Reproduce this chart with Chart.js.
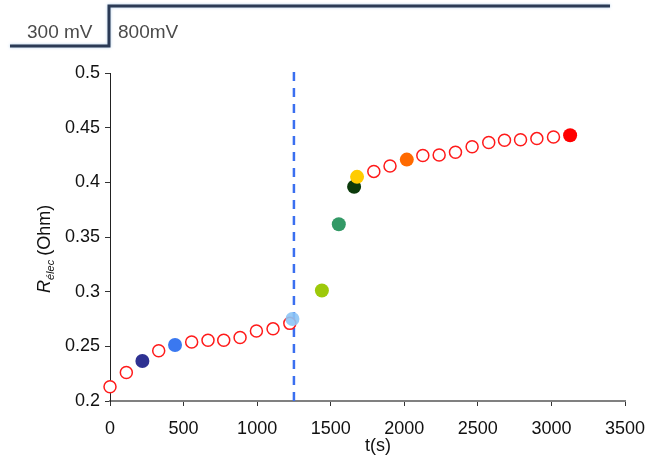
<!DOCTYPE html>
<html>
<head>
<meta charset="utf-8">
<script src="https://cdn.jsdelivr.net/npm/chart.js@4"></script>
<style>
  body { margin: 0; background: #fff; }
</style>
</head>
<body>
<canvas id="graficoR" width="645" height="457"></canvas>
<script>
// open circles (red rings)
const ringT = [0, 111, 331, 555, 666, 773, 884, 995, 1108, 1222, 1793, 1903, 2126, 2237, 2348, 2461, 2574, 2681, 2790, 2901, 3014];
const ringR = [0.213, 0.226, 0.246, 0.254, 0.2555, 0.2555, 0.258, 0.264, 0.266, 0.271, 0.41, 0.415, 0.4245, 0.425, 0.4275, 0.4325, 0.4365, 0.4385, 0.439, 0.44, 0.4415];

// filled coloured points
const fillT = [220, 442, 1240, 1440, 1555, 1659, 1679, 2017, 3127];
const fillR = [0.2366, 0.2512, 0.275, 0.301, 0.3617, 0.396, 0.405, 0.4208, 0.443];
const fillColors = ['#2e3192', '#3a78f0', 'rgba(140,196,245,0.9)', '#9dc90a', '#339966', '#0b3a0b', '#ffcc00', '#ff6a00', '#ff0000'];

// potential step
const stepT = 1250;
const stepLabels = ['300 mV', '800mV'];

const xTicks = [0, 500, 1000, 1500, 2000, 2500, 3000, 3500];

const decor = {
  id: 'decor',
  afterDraw(chart) {
    const c = chart.ctx;
    c.save();
    // header step line
    c.strokeStyle = '#2b3a55';
    c.lineWidth = 3;
    c.shadowColor = 'rgba(120,170,220,0.6)';
    c.shadowBlur = 3;
    c.beginPath();
    c.moveTo(10, 46);
    c.lineTo(109, 46);
    c.lineTo(109, 6);
    c.lineTo(610, 6);
    c.stroke();
    c.shadowBlur = 0;
    c.fillStyle = '#4a4a4a';
    c.font = '19px "Liberation Sans", Arial, sans-serif';
    c.textBaseline = 'alphabetic';
    c.fillText(stepLabels[0], 27, 38);
    c.fillText(stepLabels[1], 118, 38);

    // x title
    c.fillStyle = '#111';
    c.font = '18px "Liberation Sans", Arial, sans-serif';
    c.textAlign = 'center';
    c.fillText('t(s)', 378, 451);

    // y title R_élec (Ohm)
    c.translate(50, 293);
    c.rotate(-Math.PI / 2);
    c.textAlign = 'left';
    c.font = 'italic 18px "Liberation Sans", Arial, sans-serif';
    c.fillText('R', 0, 0);
    let w = c.measureText('R').width;
    c.font = 'italic 11px "Liberation Sans", Arial, sans-serif';
    c.fillText('élec', w, 4);
    w += c.measureText('élec').width + 4;
    c.font = '18px "Liberation Sans", Arial, sans-serif';
    c.fillText('(Ohm)', w, 0);
    c.restore();
  }
};

const ctx = document.getElementById('graficoR').getContext('2d');
new Chart(ctx, {
  type: 'scatter',
  data: {
    datasets: [
      {
        label: 'step',
        type: 'line',
        data: [{ x: stepT, y: 0.2 }, { x: stepT, y: 0.504 }],
        borderColor: '#3a6ff0',
        borderWidth: 2.5,
        borderDash: [9, 7],
        pointRadius: 0,
        order: 2
      },
      {
        label: 'rings',
        data: ringT.map((t, i) => ({ x: t, y: ringR[i] })),
        pointRadius: 6,
        pointBorderColor: '#ff1a1a',
        pointBackgroundColor: '#fff',
        pointBorderWidth: 1.5,
        order: 1
      },
      {
        label: 'filled',
        data: fillT.map((t, i) => ({ x: t, y: fillR[i] })),
        pointRadius: 7,
        pointBorderWidth: 0,
        pointBackgroundColor: fillColors,
        pointBorderColor: fillColors,
        order: 0
      }
    ]
  },
  options: {
    responsive: false,
    animation: false,
    clip: false,
    layout: { padding: { left: 0, right: 0, top: 73, bottom: 0 } },
    plugins: { legend: { display: false }, tooltip: { enabled: false } },
    scales: {
      x: {
        type: 'linear',
        min: 0, max: 3500,
        afterBuildTicks: s => { s.ticks = xTicks.map(v => ({ value: v })); },
        afterFit: s => { s.height = 56; s.paddingLeft = 0; s.paddingRight = 20; },
        grid: { drawOnChartArea: false, tickLength: 5, color: '#333' },
        border: { color: '#808080', width: 2 },
        ticks: { color: '#111', padding: 12, maxRotation: 0, font: { family: '"Liberation Sans", Arial', size: 18 },
          callback: v => String(v) }
      },
      y: {
        min: 0.2, max: 0.5,
        afterFit: s => { s.width = 110; s.paddingTop = 0; s.paddingBottom = 0; },
        grid: { drawOnChartArea: false, tickLength: 5, color: '#333' },
        border: { color: '#222', width: 1 },
        ticks: { stepSize: 0.05, color: '#111', padding: 5, font: { family: '"Liberation Sans", Arial', size: 18 },
          callback: v => String(Math.round(v * 100) / 100) }
      }
    }
  },
  plugins: [decor]
});
</script>
</body>
</html>
